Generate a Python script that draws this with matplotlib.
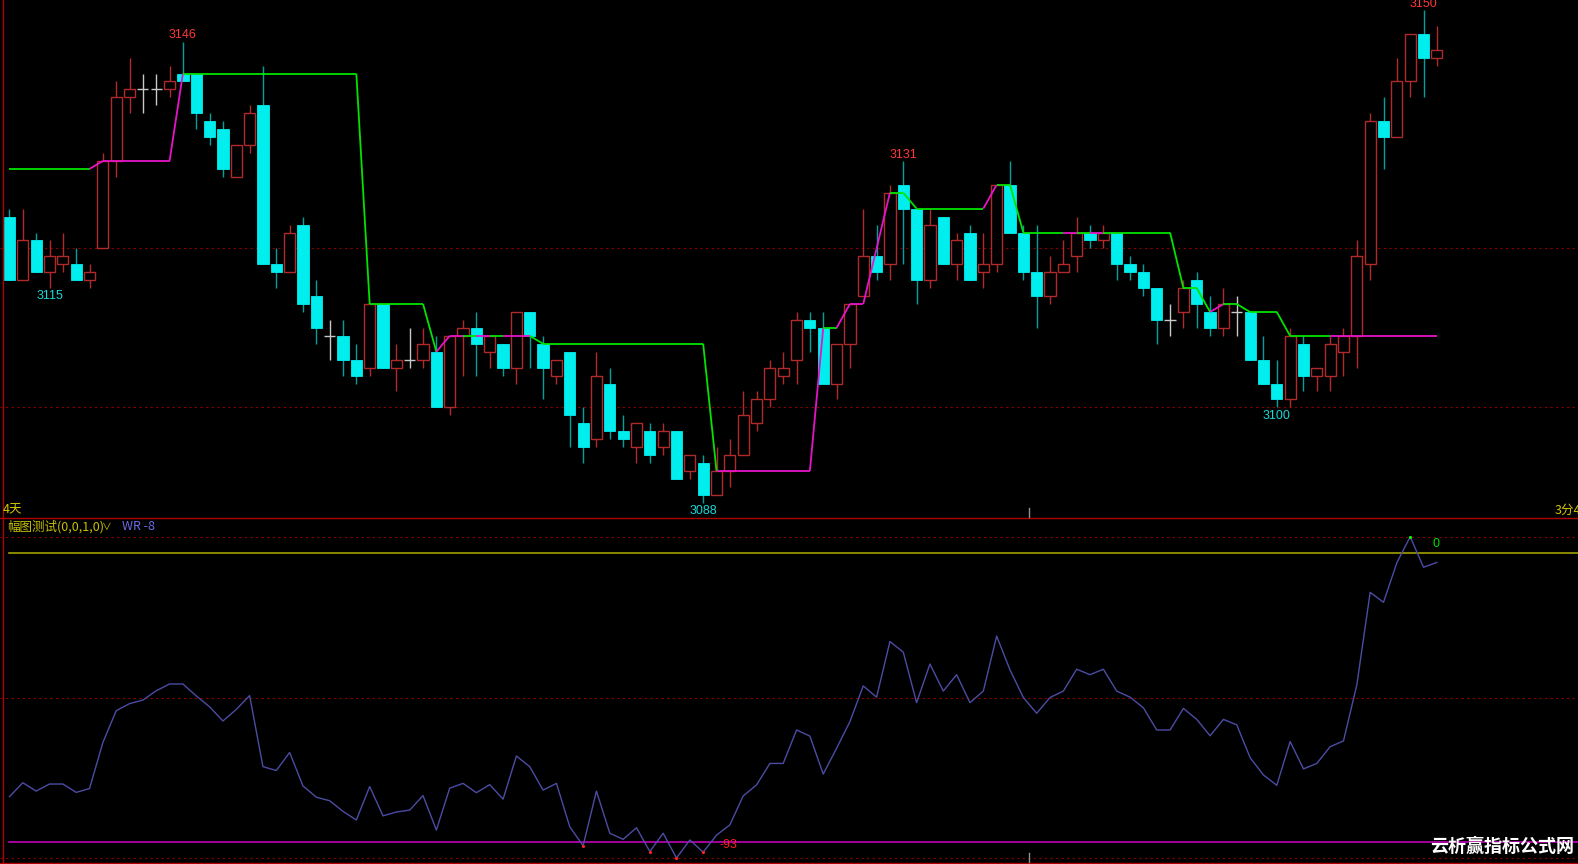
#!/usr/bin/env python3
"""
K-line chart with stop line (top) and WR sub-chart (bottom), dark trading-terminal style
"""

import numpy as np
import matplotlib
matplotlib.use('Agg')
import matplotlib.pyplot as plt
from matplotlib.collections import LineCollection
from matplotlib.lines import Line2D

# candle data (index 0..107)
opens = [3124, 3116, 3121, 3117, 3118, 3118, 3116, 3120, 3131, 3139,
         3140, 3140, 3140, 3142, 3142, 3136, 3135, 3129, 3133, 3138,
         3118, 3117, 3123, 3114, 3109, 3109, 3106, 3105, 3113, 3105,
         3106, 3106, 3107, 3100, 3109, 3110, 3107, 3108, 3105, 3112,
         3108, 3104, 3107, 3098, 3096, 3103, 3097, 3095, 3097, 3095,
         3097, 3092, 3093, 3089, 3092, 3094, 3098, 3101, 3104, 3106,
         3111, 3110, 3103, 3108, 3114, 3119, 3118, 3128, 3125, 3116,
         3124, 3118, 3122, 3117, 3118, 3128, 3122, 3117, 3114, 3117,
         3119, 3122, 3121, 3122, 3118, 3117, 3115, 3111, 3112, 3116,
         3112, 3110, 3112, 3112, 3106, 3103, 3101, 3108, 3104, 3104,
         3107, 3109, 3118, 3136, 3134, 3141, 3147, 3144]
highs = [3125, 3125, 3122, 3121, 3122, 3120, 3118, 3132, 3141, 3144,
         3142, 3142, 3143, 3146, 3142, 3137, 3136, 3133, 3138, 3143,
         3120, 3123, 3124, 3116, 3111, 3111, 3108, 3113, 3113, 3108,
         3110, 3110, 3109, 3109, 3111, 3112, 3109, 3108, 3112, 3112,
         3109, 3106, 3107, 3100, 3107, 3105, 3099, 3098, 3098, 3098,
         3097, 3094, 3094, 3095, 3096, 3102, 3102, 3106, 3107, 3112,
         3112, 3112, 3108, 3113, 3125, 3123, 3128, 3131, 3125, 3125,
         3124, 3122, 3123, 3122, 3128, 3131, 3123, 3123, 3119, 3121,
         3124, 3123, 3123, 3122, 3119, 3118, 3115, 3113, 3116, 3117,
         3114, 3115, 3114, 3112, 3109, 3106, 3110, 3109, 3105, 3109,
         3110, 3121, 3137, 3139, 3144, 3147, 3150, 3148]
lows = [3116, 3116, 3117, 3115, 3117, 3116, 3115, 3120, 3129, 3137,
        3137, 3138, 3139, 3141, 3135, 3133, 3129, 3129, 3132, 3118,
        3115, 3117, 3112, 3108, 3106, 3104, 3103, 3104, 3105, 3102,
        3105, 3105, 3100, 3099, 3104, 3104, 3105, 3104, 3103, 3105,
        3101, 3103, 3095, 3093, 3095, 3096, 3095, 3093, 3093, 3094,
        3091, 3091, 3088, 3089, 3090, 3094, 3097, 3100, 3103, 3103,
        3107, 3103, 3101, 3105, 3114, 3116, 3116, 3118, 3113, 3115,
        3118, 3116, 3116, 3115, 3117, 3122, 3116, 3110, 3113, 3117,
        3117, 3120, 3120, 3116, 3116, 3114, 3108, 3109, 3110, 3110,
        3109, 3109, 3109, 3106, 3103, 3100, 3100, 3102, 3102, 3102,
        3104, 3105, 3116, 3130, 3134, 3139, 3139, 3143]
closes = [3116, 3121, 3117, 3119, 3119, 3116, 3117, 3131, 3139, 3140,
          3140, 3140, 3141, 3141, 3137, 3134, 3130, 3133, 3137, 3118,
          3117, 3122, 3113, 3110, 3109, 3106, 3104, 3113, 3105, 3106,
          3106, 3108, 3100, 3109, 3110, 3108, 3109, 3105, 3112, 3109,
          3105, 3106, 3099, 3095, 3104, 3097, 3096, 3098, 3094, 3097,
          3091, 3094, 3089, 3092, 3094, 3099, 3101, 3105, 3105, 3111,
          3110, 3103, 3108, 3113, 3119, 3117, 3127, 3125, 3116, 3123,
          3118, 3121, 3116, 3118, 3128, 3122, 3117, 3114, 3117, 3118,
          3122, 3121, 3122, 3118, 3117, 3115, 3111, 3111, 3115, 3113,
          3110, 3113, 3112, 3106, 3103, 3101, 3109, 3104, 3105, 3108,
          3109, 3119, 3136, 3134, 3141, 3147, 3144, 3145]

# stop line values and state (G = green / falling, M = magenta / rising)
stop_line = ([3130] * 7 + [3131] * 6 + [3142] * 14 + [3113] * 5 + [3107] +
             [3109] * 7 + [3108] * 13 + [3092] * 8 + [3110] * 2 + [3113] * 2 +
             [3120] + [3127] * 2 + [3125] * 6 + [3128] * 2 + [3122] * 12 +
             [3115] * 2 + [3112] + [3113] * 2 + [3112] * 3 + [3109] * 12)
stop_state = ('G' * 7 + 'M' * 7 + 'G' * 19 + 'MMGMGMM' + 'G' * 14 +
              'M' * 8 + 'G' + 'M' * 4 + 'G' * 7 + 'M' + 'G' * 5 + 'MGM' +
              'G' * 8 + 'M' + 'G' * 8 + 'M' * 8)

# WR indicator
wr = [-80.8, -76.5, -79.1, -76.9, -76.9, -79.5, -78.3, -64.0, -54.1, -51.9,
      -50.8, -47.9, -45.8, -45.8, -49.5, -52.9, -57.3, -53.7, -49.4, -71.5,
      -72.7, -67.1, -77.5, -81.0, -82.1, -85.4, -88.1, -77.7, -86.8, -85.6,
      -85.0, -80.5, -91.2, -78.2, -76.7, -79.6, -77.1, -81.6, -68.2, -71.5,
      -78.8, -76.7, -90.2, -96.1, -79.1, -92.2, -94.1, -90.5, -97.9, -92.2,
      -99.9, -94.3, -98.1, -92.8, -89.6, -80.6, -77.2, -70.5, -70.5, -60.1,
      -62.0, -73.8, -65.8, -57.5, -46.4, -49.9, -32.6, -35.9, -51.6, -39.6,
      -48.0, -42.9, -51.6, -48.0, -30.9, -41.4, -50.0, -54.9, -50.0, -48.0,
      -41.2, -42.9, -41.2, -48.0, -49.9, -53.2, -60.1, -60.1, -53.4, -56.8,
      -61.9, -56.8, -58.5, -68.7, -74.1, -77.3, -63.7, -72.2, -70.5, -65.3,
      -63.5, -46.1, -17.3, -20.4, -8.1, 0.0, -9.5, -8.0]
wr_upper = -5
wr_lower = -95

# price labels on extremes: (index, text, is_high)
extreme_labels = [(13, '3146', True), (3, '3115', False), (52, '3088', False),
                  (67, '3131', True), (95, '3100', False), (106, '3150', True)]

W, H = 1578, 864
CJK = ['Noto Sans CJK SC', 'DejaVu Sans']

fig = plt.figure(figsize=(W / 100, H / 100), dpi=100, facecolor='black')
ax = fig.add_axes([0, (H - 517) / H, 1, 517 / H])
ax2 = fig.add_axes([0, 0, 1, 347 / H])
for a in (ax, ax2):
    a.set_facecolor('black')
    a.set_axis_off()
    a.set_xlim(-0.712, 117.58)
ax.set_ylim(3086.21, 3151.25)
ax2.set_ylim(-101.77, 6.13)

o = np.array(opens, float)
h = np.array(highs, float)
l = np.array(lows, float)
c = np.array(closes, float)
x = np.arange(len(o))

up = c > o
down = c < o
doji = c == o

red = '#b02a2a'
cyan = '#00eeee'
bw = 0.84

# wicks
ax.vlines(x[up], l[up], h[up], color=red, lw=1, zorder=2)
ax.vlines(x[down], l[down], h[down], color='#00a0a0', lw=1, zorder=2)
ax.vlines(x[doji], l[doji], h[doji], color='#c8c8c8', lw=1, zorder=2)
# bodies
ax.bar(x[up], c[up] - o[up], bottom=o[up], width=bw, facecolor='black',
       edgecolor=red, lw=1, zorder=3)
ax.bar(x[down], o[down] - c[down], bottom=c[down], width=bw, facecolor=cyan,
       edgecolor=cyan, lw=0.6, zorder=3)
ax.hlines(o[doji], x[doji] - bw / 2, x[doji] + bw / 2, color='#c8c8c8', lw=1, zorder=3)

# grid lines
for lvl in (3100, 3120):
    ax.axhline(lvl, color='#8a0000', lw=0.8, ls=(0, (2, 3)), zorder=1)

# stop line, coloured by state
sv = np.array(stop_line, float)
segs = [[(i - 1, sv[i - 1]), (i, sv[i])] for i in range(1, len(sv))]
cols = ['#00e400' if s == 'G' else '#e614c8' for s in stop_state[1:]]
ax.add_collection(LineCollection(segs, colors=cols, linewidths=1.3, zorder=4))

# extreme labels
for idx, txt, is_high in extreme_labels:
    if is_high:
        ax.annotate(txt, (idx, highs[idx]), xytext=(0, 4.6), textcoords='offset points',
                    ha='center', va='center', color='#ff3838', fontsize=9,
                    family='Liberation Sans', annotation_clip=False)
    else:
        ax.annotate(txt, (idx, lows[idx]), xytext=(0, -6), textcoords='offset points',
                    ha='center', va='center', color='#18d8d8', fontsize=9,
                    family='Liberation Sans', annotation_clip=False)

# WR panel
wv = np.array(wr)
for lvl in (0, -50, -100):
    ax2.axhline(lvl, color='#8a0000', lw=0.8, ls=(0, (2, 3)), zorder=1)
ax2.axhline(wr_upper, xmin=0.006, color='#a0a000', lw=1.2, zorder=2)
ax2.axhline(wr_lower, xmin=0.006, color='#c000b8', lw=1.2, zorder=2)
ax2.plot(x, wv, color='#4c4ca4', lw=1.0, zorder=3)
lowpts = wv < wr_lower
ax2.scatter(x[lowpts], wv[lowpts], s=5, color='#ff2020', zorder=4, lw=0)
highpts = wv > wr_upper
ax2.scatter(x[highpts], wv[highpts], s=5, color='#00ff00', zorder=4, lw=0)


def px(xp, yp):
    return xp / W, 1 - yp / H


# texts
fig.text(*px(3, 510), '4天', color='#d8c800', fontsize=9, family=CJK, va='center')
fig.text(*px(1555, 510), '3分45', color='#d8c800', fontsize=9, family=CJK, va='center')
fig.text(*px(7, 527), '幅图测试(0,0,1,0)', color='#c8c000', fontsize=9, family=CJK, va='center')
fig.text(*px(102, 527), '∨', color='#c8c000', fontsize=7, family=CJK, va='center')
fig.text(*px(122, 527), 'WR -8', color='#6a6ae6', fontsize=9, family=CJK, va='center')
fig.text(*px(1436, 544), '0', color='#00e000', fontsize=9, family='Liberation Sans',
         va='center', ha='center')
fig.text(*px(720, 845), '-93', color='#ff2020', fontsize=9, family='Liberation Sans',
         va='center')
fig.text(*px(1430, 846), '云析赢指标公式网', color='white', fontsize=13,
         family=CJK, weight='bold', va='center')

# frame lines
red_line = '#b00000'
fig.add_artist(Line2D([2.5 / W, 2.5 / W], [0, 1], transform=fig.transFigure, color=red_line, lw=1))
fig.add_artist(Line2D([0, 1], [1 - 517.5 / H] * 2, transform=fig.transFigure, color=red_line, lw=1))
fig.add_artist(Line2D([0, 1], [1 - 862.5 / H] * 2, transform=fig.transFigure, color=red_line, lw=1))
# time separator ticks
fig.add_artist(Line2D([1029 / W] * 2, [1 - 508 / H, 1 - 517 / H], transform=fig.transFigure,
                      color='#909090', lw=1))
fig.add_artist(Line2D([1029 / W] * 2, [1 - 853 / H, 1 - 862 / H], transform=fig.transFigure,
                      color='#909090', lw=1))

plt.savefig('out.png', dpi=100, facecolor='black')
plt.close()
